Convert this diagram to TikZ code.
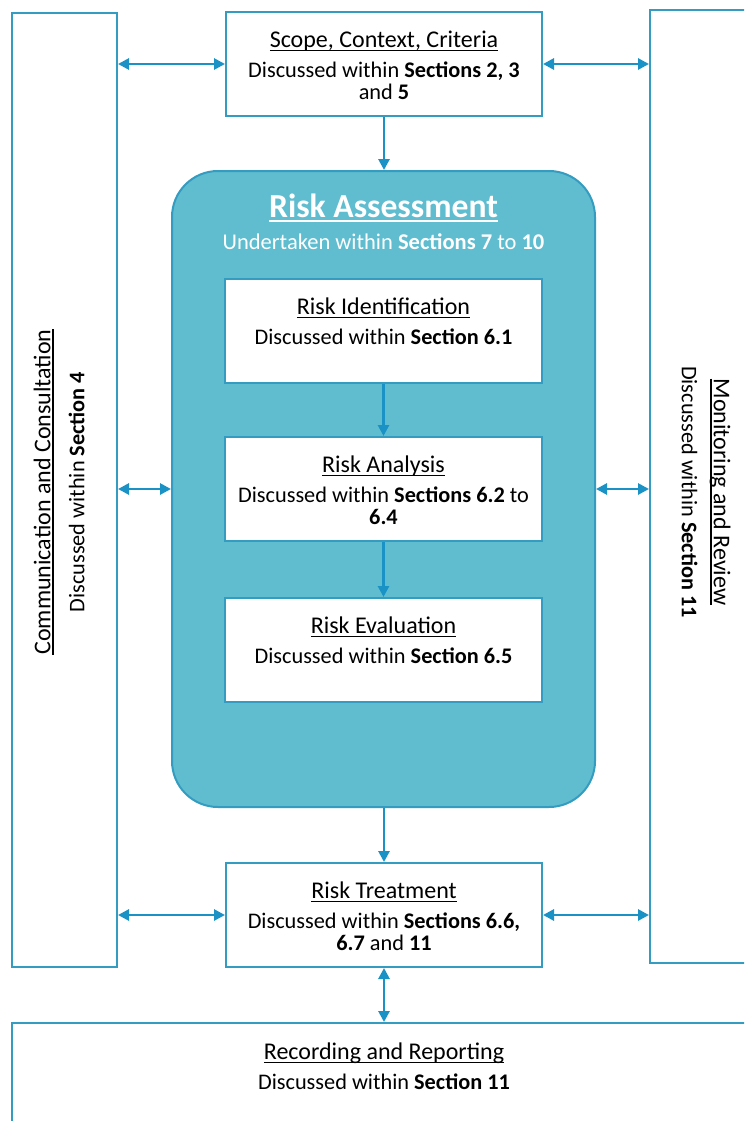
\documentclass[tikz,border=0pt]{standalone}
\usepackage{fontspec}
\setmainfont{Carlito}
\usetikzlibrary{arrows.meta}
\definecolor{bordc}{RGB}{52,156,192}
\definecolor{arrc}{RGB}{26,146,198}
\definecolor{rafill}{RGB}{96,189,208}
\newcommand\myul[1]{\setbox0\hbox{#1}\rlap{\rule[-0.14em]{\wd0}{0.065em}}\box0}
\newcommand\ttl[1]{{\fontsize{24}{22}\selectfont\myul{#1}}}
\begin{document}
\begin{tikzpicture}[x=1pt,y=-1pt,
  box/.style={draw=bordc,line width=2pt,fill=white,minimum width=#1,minimum height=104pt,inner sep=0pt},
  box/.default=317pt,
  txt/.style={anchor=north,align=center,inner sep=0pt,font=\fontsize{22.3}{22}\selectfont},
  conn/.style={draw=arrc,line width=2.9pt,-{Triangle[length=11pt,width=11pt]}},
  dconn/.style={draw=arrc,line width=2.9pt,{Triangle[length=11pt,width=11pt]}-{Triangle[length=11pt,width=11pt]}}
]
\useasboundingbox (0,0) rectangle (744,1121);
\clip (0,0) rectangle (744,1121);
\fill[white] (0,0) rectangle (744,1121);

% side boxes
\node[draw=bordc,line width=2pt,minimum width=105pt,minimum height=954pt,inner sep=0pt] (left) at (64.5,490) {};
\node[draw=bordc,line width=2pt,minimum width=150pt,minimum height=953pt,inner sep=0pt] (right) at (725,486.5) {};
\node[draw=bordc,line width=2pt,minimum width=788pt,minimum height=137pt,inner sep=0pt] (rec) at (406,1091.5) {};

% risk assessment
\node[draw=bordc,line width=2pt,fill=rafill,rounded corners=46pt,minimum width=423pt,minimum height=636pt,inner sep=0pt] (ra) at (383.5,489) {};

% boxes
\node[box=316pt] (scope) at (384,64) {};
\node[box] (ri) at (383.5,331) {};
\node[box] (ran) at (383.5,489) {};
\node[box] (re) at (383.5,650) {};
\node[box=316pt] (rt) at (384,915) {};

% texts
\node[txt] (scopet) at ([yshift=-20pt]scope.north) {\ttl{Scope, Context, Criteria}\\[8pt]Discussed within \textbf{Sections 2, 3}\\and \textbf{5}};
\node[txt] (rit) at ([yshift=-20pt]ri.north) {\ttl{Risk Identification}\\[8pt]Discussed within \textbf{Section 6.1}};
\node[txt] (rant) at ([yshift=-20pt]ran.north) {\ttl{Risk Analysis}\\[8pt]Discussed within \textbf{Sections 6.2} to\\\textbf{6.4}};
\node[txt] (ret) at ([yshift=-20pt]re.north) {\ttl{Risk Evaluation}\\[8pt]Discussed within \textbf{Section 6.5}};
\node[txt] (rtt) at ([yshift=-20pt]rt.north) {\ttl{Risk Treatment}\\[8pt]Discussed within \textbf{Sections 6.6,}\\\textbf{6.7} and \textbf{11}};
\node[txt] (rect) at ([yshift=-21pt]rec.north -| rt.north) {\ttl{Recording and Reporting}\\[8pt]Discussed within \textbf{Section 11}};

\node[anchor=north,inner sep=0pt,text=white,font=\fontsize{33.6}{36}\selectfont\bfseries] (rat) at ([yshift=-24pt]ra.north) {\myul{Risk Assessment}};
\node[anchor=north,inner sep=0pt,text=white,font=\fontsize{22.5}{22}\selectfont] (ras) at ([yshift=-63pt]ra.north) {Undertaken within \textbf{Sections 7} to \textbf{10}};

\node[txt,anchor=center,rotate=90] (leftt) at (59,492) {\ttl{Communication and Consultation}\\[12pt]Discussed within \textbf{Section 4}};
\node[txt,anchor=center,rotate=-90] (rightt) at (706,492) {\ttl{Monitoring and Review}\\[10pt]Discussed within \textbf{Section 11}};

% connectors
\draw[dconn] (scope.west) -- (scope.west -| left.east);
\draw[dconn] (scope.east) -- (scope.east -| right.west);
\draw[dconn] (ra.west) -- (ra.west -| left.east);
\draw[dconn] (ra.east) -- (ra.east -| right.west);
\draw[dconn] (rt.west) -- (rt.west -| left.east);
\draw[dconn] (rt.east) -- (rt.east -| right.west);
\draw[conn] (scope.south) -- (scope.south |- ra.north);
\draw[conn] (ri.south) -- (ran.north);
\draw[conn] (ran.south) -- (re.north);
\draw[conn] (ra.south -| rt.north) -- (rt.north);
\draw[dconn] (rt.south) -- (rt.south |- rec.north);
\end{tikzpicture}
\end{document}
